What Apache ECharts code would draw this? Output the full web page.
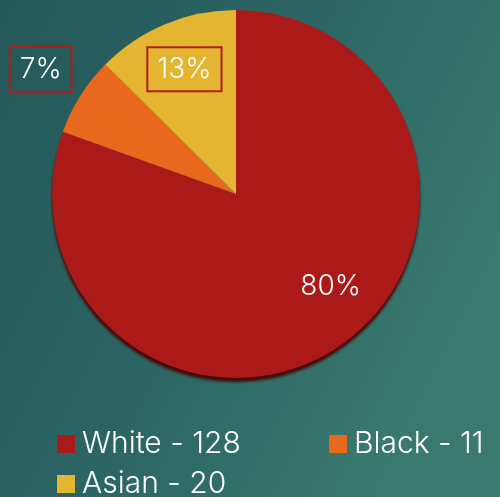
<!DOCTYPE html>
<html>
<head>
<meta charset="utf-8">
<script src="https://cdn.jsdelivr.net/npm/echarts@6/dist/echarts.min.js"></script>
<style>
  html, body { margin: 0; padding: 0; }
  #chart { width: 500px; height: 497px; }
</style>
</head>
<body>
<div id="chart"></div>
<script>
  const categories = ["White", "Black", "Asian"];
  const counts = [128, 11, 20];
  const percentLabels = ["80%", "7%", "13%"];
  const colors = ["#ab1a18", "#e8681d", "#e3b530"];

  const FONT = "Inter";
  const chart = echarts.init(document.getElementById("chart"));

  // label tweaks per slice (offsets from the inside spot)
  const labelStyles = [
    { offset: [40, 15] },
    { offset: [-115, -74], borderColor: "#b01c1c", borderWidth: 2, padding: [9, 10] },
    { offset: [-15, -37], borderColor: "#b01c1c", borderWidth: 2, padding: [8, 10] },
  ];

  const pieData = categories.map((name, i) => ({
    name: name + " - " + counts[i],
    value: counts[i],
    itemStyle: i === 0
      ? { color: colors[i], shadowColor: "rgba(70,0,0,0.95)", shadowOffsetY: 4, shadowBlur: 3 }
      : { color: colors[i] },
    label: Object.assign({ formatter: percentLabels[i] }, labelStyles[i]),
  }));

  function legendAt(idx, left, top) {
    return {
      data: [pieData[idx].name],
      left: left,
      top: top,
      icon: "rect",
      itemWidth: 18,
      itemHeight: 18,
      itemGap: 0,
      selectedMode: false,
      textStyle: { color: "#ffffff", fontSize: 30, fontWeight: 300, fontFamily: FONT, padding: [0, 0, 0, 2] },
    };
  }

  const option = {
    backgroundColor: new echarts.graphic.LinearGradient(0, 0, 1, 0.5, [
      { offset: 0, color: "#245858" },
      { offset: 0.55, color: "#2c6664" },
      { offset: 1, color: "#3a7a6e" },
    ]),
    legend: [
      legendAt(0, 52, 424),
      legendAt(1, 324, 424),
      legendAt(2, 52, 464),
    ],
    series: [
      {
        type: "pie",
        center: [236, 194],
        radius: 184,
        startAngle: 90,
        clockwise: true,
        silent: true,
        animation: false,
        label: {
          position: "inside",
          color: "#ffffff",
          fontSize: 28,
          fontWeight: 300,
          fontFamily: FONT,
        },
        labelLine: { show: false },
        data: pieData,
      },
    ],
  };

  chart.setOption(option);
</script>
</body>
</html>
